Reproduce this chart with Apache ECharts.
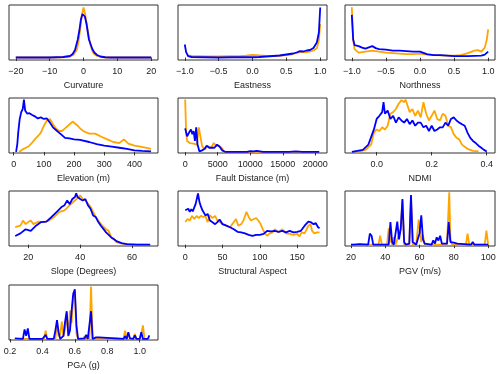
<!DOCTYPE html>
<html lang="en">
<head>
    <meta charset="UTF-8">
    <title>Density panels</title>
    <style>
        html, body { margin: 0; padding: 0; background: #fff; }
    </style>
</head>
<body>
<div style="width: 500px;height: 374px;" id="chart"></div>
<script src="https://cdn.jsdelivr.net/npm/echarts@6.0.0/dist/echarts.min.js"></script>
<script type="text/javascript">
  // density curves: [x, relative density]
  const curvatureOrange = [[-20, 0], [-10, 0], [-6, 0.5], [-4, 2], [-3, 5], [-2, 15], [-1.5, 30], [-1, 55], [-0.5, 85], [0, 100], [0.5, 86], [1, 64], [1.5, 44], [2, 27], [2.5, 15], [3, 8], [4, 3], [5, 1], [7, 0], [10, 0], [20, 0]];
  const curvatureBlue = [[-20, 0], [-10, 0], [-6, 1], [-4, 3], [-3.2, 7], [-2.5, 15], [-1.7, 36], [-1.2, 55], [-0.8, 75], [-0.3, 87], [0, 89], [0.4, 82], [0.9, 67], [1.6, 36], [2.6, 17], [3.2, 10], [4, 5], [5, 2], [6.4, 0.5], [8, 0], [20, 0]];

  const eastnessOrange = [[-0.97, 4], [-0.95, 4], [-0.9, 3], [-0.8, 2.7], [-0.65, 2], [-0.5, 2], [-0.35, 2.5], [-0.2, 2.7], [-0.1, 3.5], [0.0, 5], [0.05, 4.5], [0.1, 4], [0.2, 3], [0.3, 2.7], [0.4, 3.5], [0.5, 5], [0.6, 7], [0.7, 10.7], [0.75, 11], [0.8, 10.7], [0.85, 12], [0.9, 14], [0.95, 18.7], [0.98, 34], [1.0, 67]];
  const eastnessBlue = [[-1.0, 26], [-0.98, 10.7], [-0.95, 2.6], [-0.9, 1], [-0.7, 0.5], [-0.5, 0], [-0.3, 0.5], [-0.1, 0.5], [0.0, 0.5], [0.1, 1], [0.2, 2], [0.3, 3], [0.4, 4], [0.5, 6], [0.6, 8], [0.65, 10], [0.7, 12.7], [0.75, 12], [0.8, 14], [0.85, 15], [0.9, 19], [0.95, 30], [0.98, 50], [1.0, 100]];

  const northnessOrange = [[-1.0, 100], [-0.98, 36], [-0.96, 17], [-0.9, 10], [-0.8, 12], [-0.7, 14], [-0.6, 12], [-0.5, 10], [-0.4, 9], [-0.3, 8], [-0.2, 7], [-0.1, 7], [0.0, 8], [0.1, 6], [0.2, 5], [0.3, 4.5], [0.4, 4], [0.5, 4], [0.6, 5], [0.7, 9], [0.8, 14], [0.85, 15], [0.9, 12], [0.95, 20], [0.98, 36], [1.0, 56]];
  const northnessBlue = [[-1.0, 85], [-0.98, 36], [-0.96, 25], [-0.9, 23], [-0.85, 20], [-0.8, 18], [-0.7, 23], [-0.65, 19], [-0.6, 17], [-0.5, 16], [-0.4, 14], [-0.3, 14], [-0.2, 13], [-0.1, 12], [0.0, 12], [0.1, 7], [0.2, 5], [0.3, 5], [0.4, 4], [0.5, 3], [0.6, 3], [0.7, 3], [0.8, 3.5], [0.9, 4], [0.95, 6], [1.0, 12]];

  const elevationOrange = [[18, 0], [30, 5], [40, 8], [50, 11], [60, 17], [70, 24], [80, 30], [90, 37], [100, 50], [110, 60], [120, 63], [130, 53], [140, 45], [150, 40], [160, 40], [170, 45], [180, 50], [195, 58], [210, 51], [220, 45], [230, 40], [250, 35], [270, 35], [290, 29], [310, 24], [330, 19], [350, 17], [365, 24], [380, 16], [400, 12], [420, 10], [440, 8], [455, 6]];
  const elevationBlue = [[8, 0], [12, 15], [15, 37], [20, 63], [25, 76], [30, 82], [34, 100], [38, 79], [45, 73], [52, 74], [60, 71], [70, 68], [75, 70], [80, 64], [90, 66], [100, 63], [110, 64], [120, 56], [130, 47], [140, 42], [150, 37], [160, 32], [170, 27], [185, 26], [200, 24], [220, 23], [250, 19], [275, 15], [300, 12], [325, 10], [350, 8], [375, 6], [400, 3], [425, 2], [455, 1]];

  const faultOrange = [[0, 100], [150, 37], [300, 21], [700, 17], [1000, 19], [1300, 16], [1600, 17], [1800, 14], [2100, 47], [2400, 48], [2600, 11], [3000, 5], [3500, 11], [4000, 8], [4400, 17], [4800, 11], [5200, 12], [5600, 8], [6000, 0], [10000, 0], [20600, 0]];
  const faultBlue = [[0, 45], [300, 30], [600, 37], [900, 43], [1100, 34], [1300, 40], [1500, 21], [1700, 47], [1900, 14], [2200, 1], [2600, 3], [3000, 6], [3300, 12], [3700, 8], [4000, 10], [4500, 8], [4900, 14], [5300, 10], [5700, 3], [6200, 0], [9500, 0], [10000, 1.5], [10500, 1], [11000, 2], [11500, 1], [12000, 0], [16000, 0], [17000, 1], [18000, 0], [19300, 0], [19600, 3], [19900, 0], [20600, 0]];

  const ndmiOrange = [[-0.07, 0], [-0.04, 4], [-0.02, 14], [-0.01, 37], [0.0, 43], [0.01, 40], [0.02, 47], [0.03, 43], [0.04, 50], [0.05, 73], [0.06, 76], [0.07, 82], [0.08, 92], [0.09, 99], [0.1, 95], [0.105, 100], [0.11, 92], [0.12, 76], [0.13, 82], [0.14, 69], [0.15, 79], [0.16, 66], [0.17, 95], [0.18, 73], [0.19, 60], [0.2, 69], [0.21, 79], [0.22, 63], [0.23, 60], [0.24, 73], [0.25, 69], [0.26, 50], [0.27, 47], [0.28, 34], [0.29, 27], [0.3, 24], [0.31, 14], [0.32, 10], [0.33, 6], [0.35, 2], [0.37, 1]];
  const ndmiBlue = [[-0.09, 0], [-0.05, 4], [-0.03, 14], [-0.01, 43], [0.0, 63], [0.01, 69], [0.02, 76], [0.025, 95], [0.03, 73], [0.04, 79], [0.05, 63], [0.06, 69], [0.07, 56], [0.08, 66], [0.09, 60], [0.1, 56], [0.11, 63], [0.12, 53], [0.13, 60], [0.14, 50], [0.15, 56], [0.16, 56], [0.17, 47], [0.18, 50], [0.19, 40], [0.2, 50], [0.21, 40], [0.22, 43], [0.23, 47], [0.24, 47], [0.25, 56], [0.26, 50], [0.27, 63], [0.28, 66], [0.29, 60], [0.3, 56], [0.31, 53], [0.32, 50], [0.33, 37], [0.34, 27], [0.35, 21], [0.36, 17], [0.37, 12], [0.38, 8], [0.39, 4], [0.4, 1]];

  const slopeOrange = [[15, 34], [17, 37], [18, 47], [19, 40], [20, 44], [21, 47], [22, 40], [24, 45], [26, 44], [28, 47], [30, 54], [32, 64], [34, 67], [36, 77], [38, 86], [40, 96], [41, 89], [42, 86], [44, 74], [46, 54], [48, 40], [50, 30], [51, 27], [52, 14], [53, 12], [54, 5], [56, 2], [60, 0], [66, 0]];
  const slopeBlue = [[15, 17], [17, 22], [19, 30], [21, 27], [23, 37], [25, 44], [27, 45], [29, 54], [31, 64], [33, 74], [34, 77], [35, 86], [36, 79], [37, 89], [38, 93], [38.5, 100], [39, 93], [40, 89], [41, 86], [42, 89], [43, 77], [44, 70], [45, 57], [46, 54], [47, 44], [48, 37], [50, 24], [52, 14], [54, 7], [56, 3], [58, 1], [62, 0], [67, 0]];

  const aspectOrange = [[0, 44], [3, 50], [6, 47], [9, 56], [12, 50], [15, 56], [18, 52], [21, 56], [24, 54], [27, 56], [30, 44], [33, 58], [36, 52], [40, 56], [43, 47], [46, 44], [50, 40], [55, 37], [60, 34], [65, 44], [68, 50], [71, 37], [75, 40], [78, 47], [82, 64], [85, 54], [88, 47], [92, 50], [95, 52], [98, 47], [101, 40], [104, 30], [107, 21], [110, 17], [113, 22], [117, 24], [120, 30], [125, 24], [130, 30], [135, 22], [140, 21], [145, 19], [150, 21], [153, 16], [156, 24], [160, 22], [165, 37], [168, 40], [170, 27], [173, 22], [177, 24], [180, 24]];
  const aspectBlue = [[0, 67], [2, 64], [4, 70], [6, 64], [8, 69], [10, 65], [12, 67], [14, 80], [17, 100], [19, 83], [21, 74], [23, 67], [25, 64], [27, 57], [30, 60], [33, 47], [36, 44], [40, 40], [43, 44], [46, 49], [50, 40], [55, 37], [60, 34], [65, 30], [70, 25], [75, 24], [80, 22], [85, 19], [90, 17], [95, 19], [100, 19], [105, 21], [110, 27], [115, 26], [120, 27], [125, 25], [130, 27], [135, 24], [140, 27], [145, 24], [150, 25], [155, 27], [160, 37], [165, 45], [168, 44], [172, 40], [175, 42], [178, 34], [180, 32]];

  const pgvOrange = [[20, 0], [36, 0], [37, 17], [38, 0], [41, 0], [42, 31], [43, 10], [44, 0], [45, 14], [46, 0], [49, 30], [50, 85], [51, 0], [54, 0], [55, 92], [56, 0], [58, 0], [59.5, 48], [61, 5], [62, 18], [63, 0], [76, 0], [77.3, 100], [78, 10], [79, 0], [87, 0], [88, 21], [89, 0], [98, 0], [99, 27], [100, 0]];
  const pgvBlue = [[20, 0], [21, 3], [22, 0], [25, 1], [26, 0], [30, 0], [31, 21], [32, 17], [33, 0], [42, 0], [43, 43], [44, 5], [45, 0], [46, 2], [47, 44], [48, 10], [49, 30], [50, 87], [51, 5], [52, 0], [54, 2], [55, 95], [56, 5], [57, 2], [58, 0], [60, 22], [61, 56], [62, 10], [63, 2], [64, 0], [67, 0], [68, 8], [69, 2], [70, 14], [71, 8], [72, 17], [73, 2], [74, 0], [76, 2], [77, 43], [78, 5], [79, 8], [80, 4], [81, 6], [82, 2], [83, 0], [90, 0], [91, 5], [92, 0], [98, 0], [99, 2], [100, 0]];

  const pgaOrange = [[0.23, 0], [0.41, 0], [0.42, 16], [0.43, 0], [0.48, 0], [0.49, 30], [0.5, 5], [0.51, 10], [0.52, 33], [0.53, 5], [0.54, 20], [0.55, 50], [0.56, 5], [0.57, 54], [0.58, 30], [0.59, 80], [0.6, 90], [0.61, 10], [0.62, 0], [0.65, 0], [0.66, 5], [0.67, 0], [0.69, 0], [0.7, 100], [0.71, 0], [0.8, 0], [0.85, 1], [0.9, 0], [0.91, 16], [0.92, 0], [0.93, 12], [0.94, 0], [0.96, 0], [0.97, 10], [0.98, 0], [1.0, 0], [1.01, 10], [1.02, 26], [1.03, 0], [1.06, 0]];
  const pgaBlue = [[0.23, 1], [0.24, 0], [0.28, 0], [0.29, 18], [0.3, 6], [0.31, 20], [0.32, 0], [0.4, 0], [0.41, 3], [0.42, 8], [0.43, 0], [0.47, 0], [0.48, 16], [0.49, 36], [0.5, 13], [0.51, 0], [0.53, 6], [0.54, 33], [0.55, 53], [0.56, 6], [0.57, 16], [0.58, 53], [0.59, 86], [0.6, 95], [0.61, 26], [0.62, 0], [0.66, 1], [0.67, 8], [0.68, 0], [0.69, 0], [0.7, 53], [0.71, 0], [0.73, 3], [0.74, 1], [0.75, 3], [0.76, 0], [0.9, 0], [0.91, 5], [0.92, 0], [0.93, 13], [0.94, 1], [0.96, 0], [0.97, 7], [0.98, 0], [1.0, 0], [1.01, 13], [1.02, 0], [1.05, 0], [1.06, 7]];

  // tick labels
  const curvatureTicks = [-20, -10, 0, 10, 20];
  const aspectTicks11 = [-1.0, -0.5, 0.0, 0.5, 1.0];
  const elevationTicks = [0, 100, 200, 300, 400];
  const faultTicks = [0, 5000, 10000, 15000, 20000];
  const ndmiTicks = [0.0, 0.2, 0.4];
  const slopeTicks = [20, 40, 60];
  const aspectTicks = [0, 50, 100, 150];
  const pgvTicks = [20, 40, 60, 80, 100];
  const pgaTicks = [0.2, 0.4, 0.6, 0.8, 1.0];

  const panels = [
    {name: 'Curvature', orange: curvatureOrange, blue: curvatureBlue, ticks: curvatureTicks, dec: 0, xMin: -22, xMax: 22, yMin: -5, yMax: 105},
    {name: 'Eastness', orange: eastnessOrange, blue: eastnessBlue, ticks: aspectTicks11, dec: 1, xMin: -1.1, xMax: 1.1, yMin: -5, yMax: 105},
    {name: 'Northness', orange: northnessOrange, blue: northnessBlue, ticks: aspectTicks11, dec: 1, xMin: -1.1, xMax: 1.1, yMin: -4.5, yMax: 104.5},
    {name: 'Elevation (m)', orange: elevationOrange, blue: elevationBlue, ticks: elevationTicks, dec: 0, xMin: -15.5, xMax: 478, yMin: -2, yMax: 103},
    {name: 'Fault Distance (m)', orange: faultOrange, blue: faultBlue, ticks: faultTicks, dec: 0, xMin: -1100, xMax: 21800, yMin: -2, yMax: 103},
    {name: 'NDMI', orange: ndmiOrange, blue: ndmiBlue, ticks: ndmiTicks, dec: 1, xMin: -0.115, xMax: 0.43, yMin: -2, yMax: 103},
    {name: 'Slope (Degrees)', orange: slopeOrange, blue: slopeBlue, ticks: slopeTicks, dec: 0, xMin: 12.6, xMax: 70, yMin: -2.6, yMax: 104.6},
    {name: 'Structural Aspect', orange: aspectOrange, blue: aspectBlue, ticks: aspectTicks, dec: 0, xMin: -9.8, xMax: 190, yMin: -2.6, yMax: 104.6},
    {name: 'PGV (m/s)', orange: pgvOrange, blue: pgvBlue, ticks: pgvTicks, dec: 0, xMin: 16.5, xMax: 104, yMin: -2.6, yMax: 102.6},
    {name: 'PGA (g)', orange: pgaOrange, blue: pgaBlue, ticks: pgaTicks, dec: 1, xMin: 0.194, xMax: 1.113, yMin: -2, yMax: 103},
  ];

  const colLeft = [9, 178, 345];
  const colWidth = [149, 149, 150];
  const rowTop = [5, 98, 191, 285];
  const plotH = 55;
  const fontName = '"Liberation Sans", Arial, sans-serif';

  function tickText(v, dec) {
    return v.toFixed(dec).replace('-', '\u2212');
  }

  let grids = [];
  let xAxes = [];
  let yAxes = [];
  let series = [];

  panels.forEach(function(p, i) {
    grids.push({
      left: colLeft[i % 3],
      top: rowTop[Math.floor(i / 3)],
      width: colWidth[i % 3],
      height: plotH,
      show: true,
      borderColor: '#333',
      borderWidth: 1,
      backgroundColor: 'transparent',
      containLabel: false,
      outerBoundsMode: 'none',
    });
    xAxes.push({
      type: 'value',
      gridIndex: i,
      min: p.xMin,
      max: p.xMax,
      name: p.name,
      nameLocation: 'middle',
      nameGap: 21,
      nameTextStyle: {fontSize: 9, color: '#222', fontFamily: fontName},
      axisLine: {show: false},
      splitLine: {show: false},
      axisTick: {show: true, length: 3.5, customValues: p.ticks, lineStyle: {color: '#333', width: 1}},
      axisLabel: {
        customValues: p.ticks,
        fontSize: 9,
        margin: 7,
        color: '#222',
        fontFamily: fontName,
        formatter: function(v) {
          return tickText(v, p.dec);
        },
      },
    });
    yAxes.push({
      type: 'value',
      gridIndex: i,
      min: p.yMin,
      max: p.yMax,
      show: false,
      splitLine: {show: false},
    });
    series.push({
      type: 'line',
      xAxisIndex: i,
      yAxisIndex: i,
      data: p.orange,
      showSymbol: false,
      symbol: 'none',
      lineStyle: {color: '#FFA500', width: 1.8},
      z: 2,
    });
    series.push({
      type: 'line',
      xAxisIndex: i,
      yAxisIndex: i,
      data: p.blue,
      showSymbol: false,
      symbol: 'none',
      lineStyle: {color: '#0000FF', width: 1.8},
      z: 3,
    });
  });

  const option = {
    animation: false,
    backgroundColor: '#fff',
    grid: grids,
    xAxis: xAxes,
    yAxis: yAxes,
    series: series,
  };

  let instance = echarts.init(document.getElementById('chart'));
  instance.setOption(option);
</script>
</body>
</html>
